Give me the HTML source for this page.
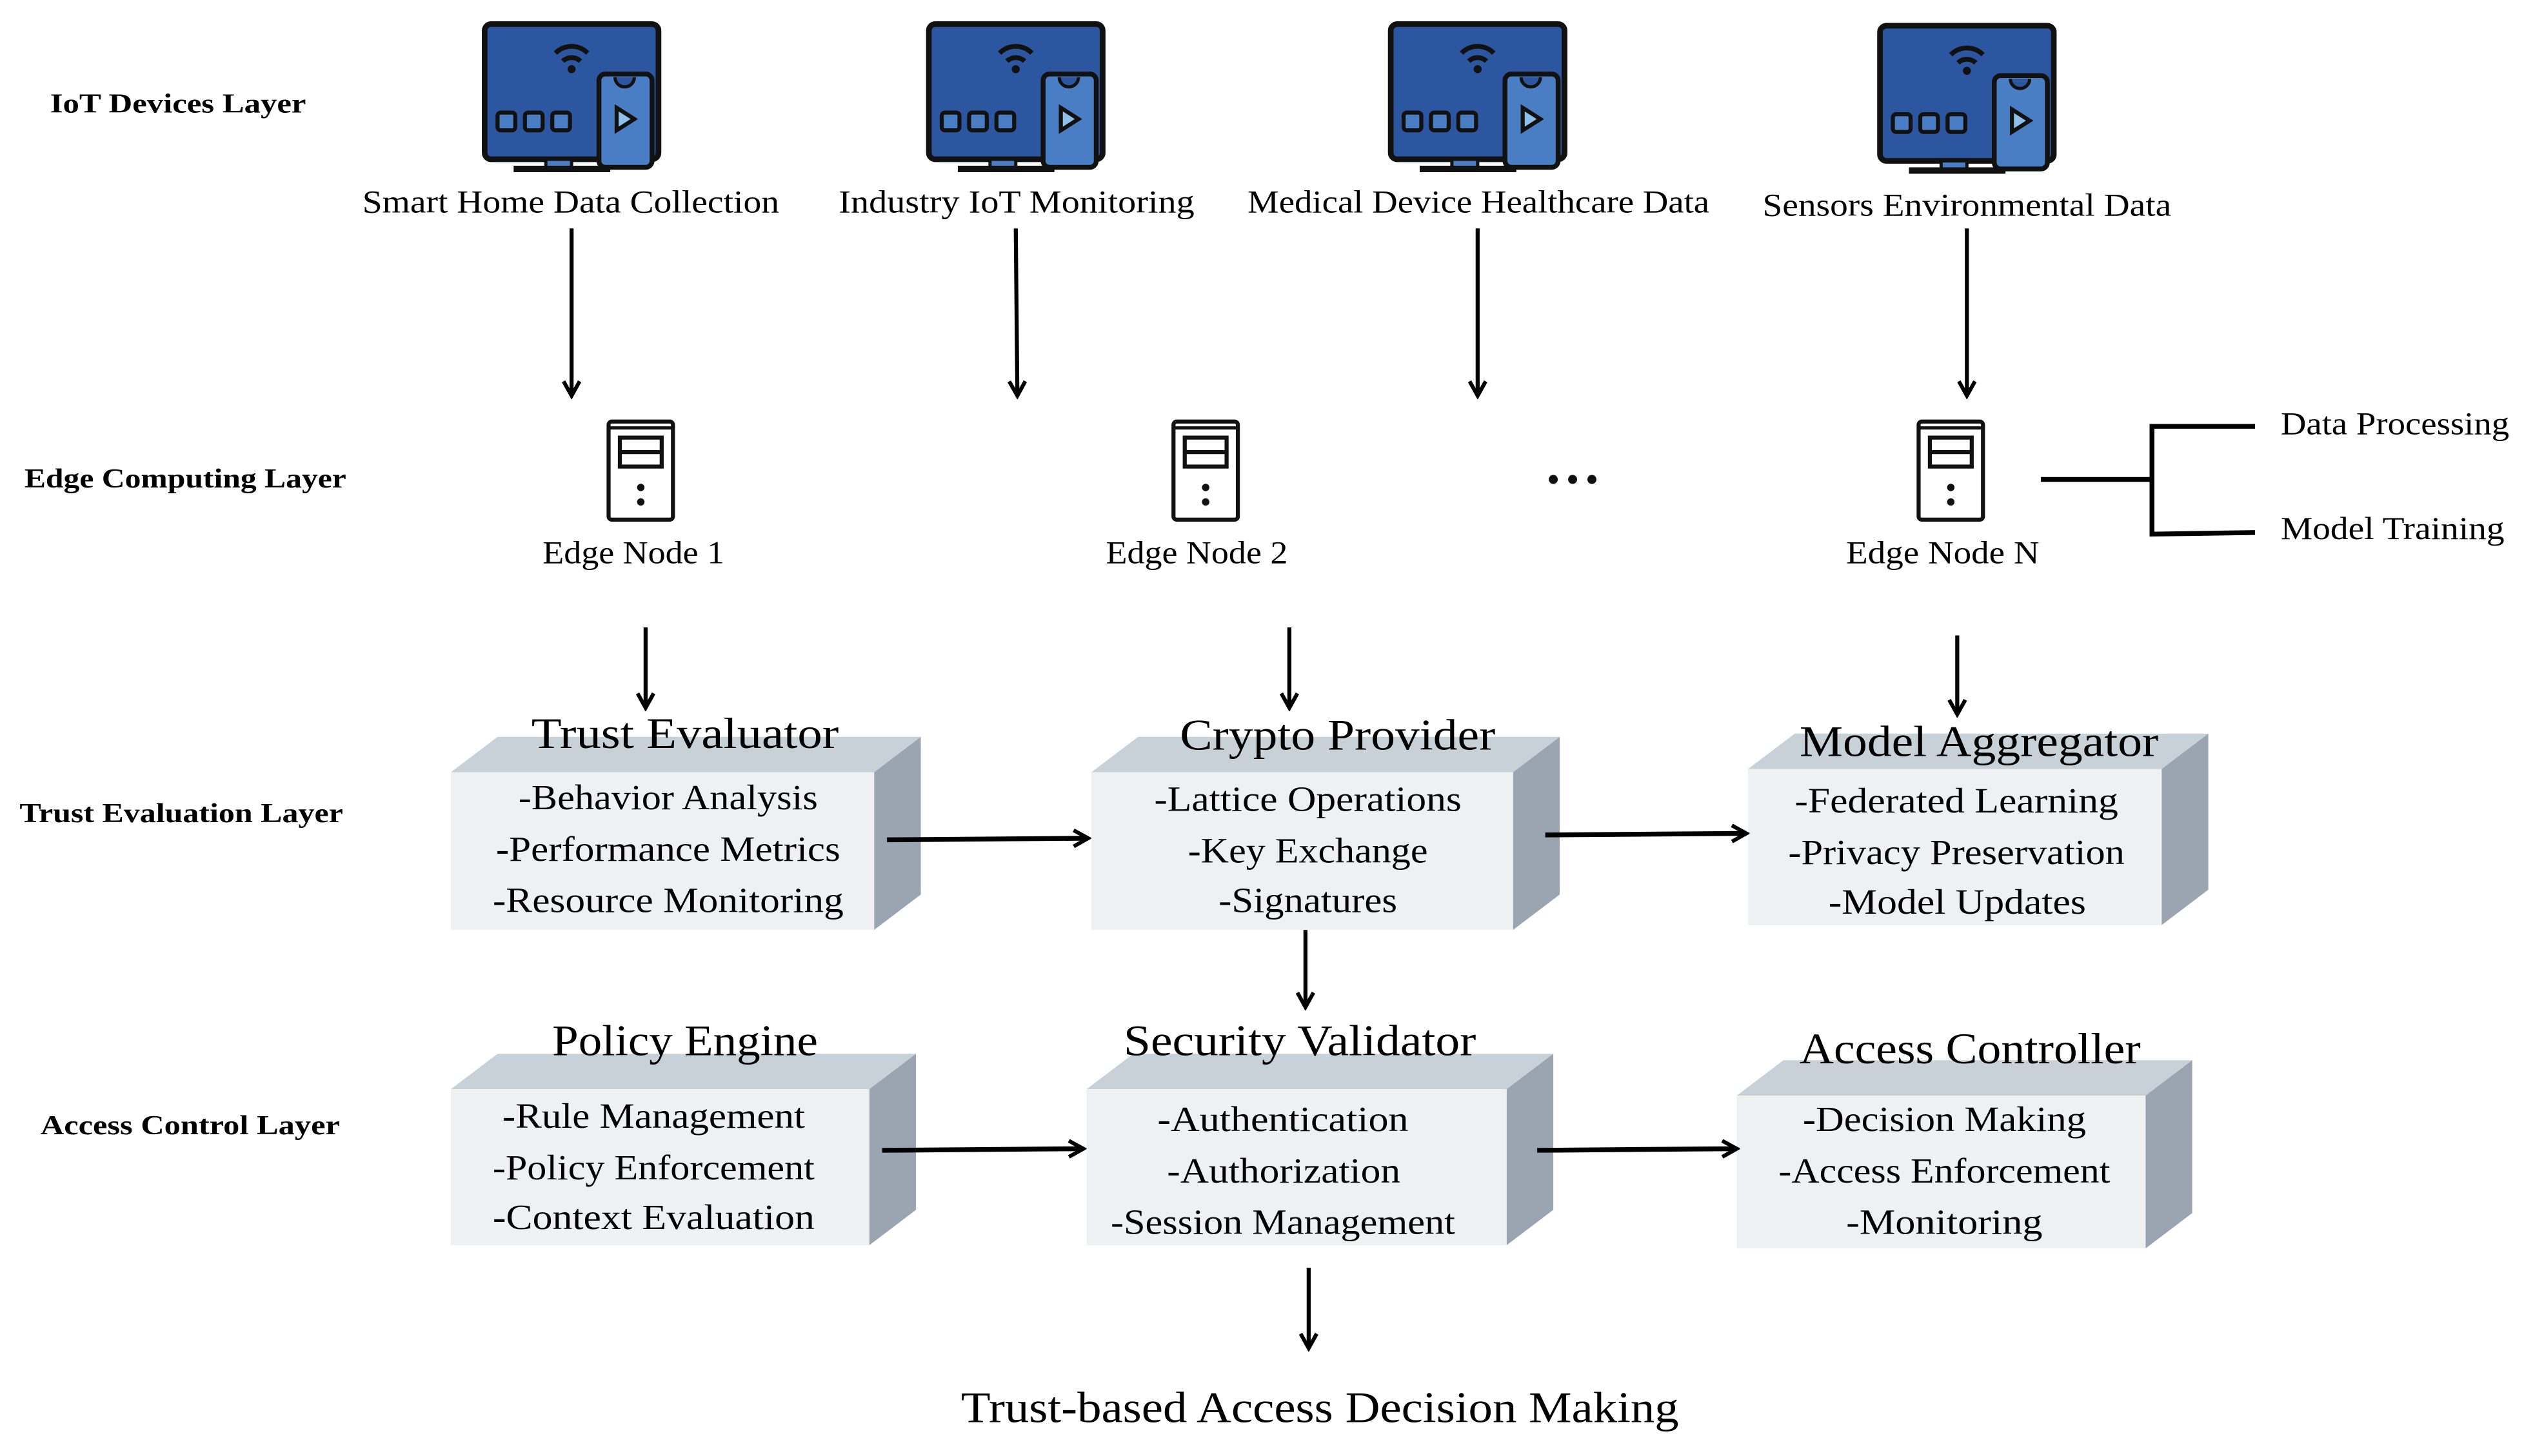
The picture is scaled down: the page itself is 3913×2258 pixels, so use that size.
<!DOCTYPE html>
<html><head><meta charset="utf-8"><style>html,body{margin:0;padding:0;background:#fff}svg{display:block}svg text{font-family:"Liberation Serif","Times New Roman",serif}</style></head>
<body>
<svg width="3913" height="2258" viewBox="0 0 1568 905" xmlns="http://www.w3.org/2000/svg">
<defs>
<marker id="ah" viewBox="0 0 12 12" refX="10" refY="6" markerWidth="12" markerHeight="12" markerUnits="userSpaceOnUse" orient="auto">
<path d="M1,1 L10,6 L1,11" fill="none" stroke="#000" stroke-width="2.4"/></marker>
<g id="mon">
<rect x="-54" y="0" width="108" height="84" rx="4" fill="#2d56a0" stroke="#111" stroke-width="3.5"/>
<rect x="-16" y="84" width="16" height="6" fill="#4a7ec4" stroke="#111" stroke-width="2"/>
<rect x="-36" y="88" width="60" height="4" fill="#111"/>
<path d="M-10,18 a14,14 0 0 1 20,0" fill="none" stroke="#111" stroke-width="3"/>
<path d="M-5.5,23 a8,8 0 0 1 11,0" fill="none" stroke="#111" stroke-width="3"/>
<circle cx="0" cy="28" r="2.5" fill="#111"/>
<rect x="-46" y="55" width="11" height="11" rx="2" fill="#4a7ec4" stroke="#111" stroke-width="2.5"/>
<rect x="-29" y="55" width="11" height="11" rx="2" fill="#4a7ec4" stroke="#111" stroke-width="2.5"/>
<rect x="-12" y="55" width="11" height="11" rx="2" fill="#4a7ec4" stroke="#111" stroke-width="2.5"/>
<rect x="17" y="31" width="33" height="58" rx="4" fill="#4a7ec4" stroke="#111" stroke-width="3"/>
<path d="M27,33 a6,6 0 0 0 12,0" fill="#2d56a0" stroke="#111" stroke-width="2"/>
<path d="M28,52 L39,59 L28,66 Z" fill="#8fc0ec" stroke="#111" stroke-width="2.5"/>
</g>
<g id="srv">
<rect x="-20" y="0" width="40" height="61" rx="2" fill="#fff" stroke="#111" stroke-width="2.5"/>
<line x1="-19" y1="4" x2="19" y2="4" stroke="#111" stroke-width="2"/>
<rect x="-13" y="10" width="26" height="18" fill="#fff" stroke="#111" stroke-width="2.5"/>
<line x1="-13" y1="19" x2="13" y2="19" stroke="#111" stroke-width="2.5"/>
<circle cx="0" cy="41" r="2.3" fill="#111"/><circle cx="0" cy="50" r="2.3" fill="#111"/>
</g>
</defs>

<g font-weight="bold" font-size="17">
<text x="31" y="70" textLength="159" lengthAdjust="spacingAndGlyphs">IoT Devices Layer</text>
<text x="15" y="303" textLength="200" lengthAdjust="spacingAndGlyphs">Edge Computing Layer</text>
<text x="12" y="511" textLength="201" lengthAdjust="spacingAndGlyphs">Trust Evaluation Layer</text>
<text x="25" y="705" textLength="186" lengthAdjust="spacingAndGlyphs">Access Control Layer</text>
</g>

<use href="#mon" x="355" y="15"/>
<use href="#mon" x="631" y="15"/>
<use href="#mon" x="918" y="15"/>
<use href="#mon" x="1222" y="16"/>

<g font-size="20">
<text x="225" y="132" textLength="259" lengthAdjust="spacingAndGlyphs">Smart Home Data Collection</text>
<text x="521" y="132" textLength="221" lengthAdjust="spacingAndGlyphs">Industry IoT Monitoring</text>
<text x="775" y="132" textLength="287" lengthAdjust="spacingAndGlyphs">Medical Device Healthcare Data</text>
<text x="1095" y="134" textLength="254" lengthAdjust="spacingAndGlyphs">Sensors Environmental Data</text>
<text x="337" y="350" textLength="113" lengthAdjust="spacingAndGlyphs">Edge Node 1</text>
<text x="687" y="350" textLength="113" lengthAdjust="spacingAndGlyphs">Edge Node 2</text>
<text x="1147" y="350" textLength="120" lengthAdjust="spacingAndGlyphs">Edge Node N</text>
<text x="1417" y="270" textLength="142" lengthAdjust="spacingAndGlyphs">Data Processing</text>
<text x="1417" y="335" textLength="139" lengthAdjust="spacingAndGlyphs">Model Training</text>
</g>

<g stroke="#000" stroke-width="2.5" fill="none" marker-end="url(#ah)">
<line x1="355" y1="142" x2="355" y2="246"/>
<line x1="631" y1="142" x2="632" y2="246"/>
<line x1="918" y1="142" x2="918" y2="246"/>
<line x1="1222" y1="142" x2="1222" y2="246"/>
<line x1="401" y1="390" x2="401" y2="440"/>
<line x1="801" y1="390" x2="801" y2="440"/>
<line x1="1216" y1="395" x2="1216" y2="444"/>
<line x1="811" y1="578" x2="811" y2="626"/>
<line x1="813" y1="788" x2="813" y2="838"/>
</g>

<use href="#srv" x="398" y="262"/>
<use href="#srv" x="749" y="262"/>
<use href="#srv" x="1212" y="262"/>
<g fill="#111"><circle cx="965" cy="298" r="2.8"/><circle cx="977" cy="298" r="2.8"/><circle cx="989" cy="298" r="2.8"/></g>

<g stroke="#000" stroke-width="3" fill="none">
<line x1="1268" y1="298" x2="1337" y2="298"/>
<polyline points="1401,265 1337,265 1337,332 1401,331"/>
</g>

<g>
<polygon points="280,480 309,458 572,458 543,480" fill="#c8d0d8"/><polygon points="543,480 572,458 572,556 543,578" fill="#9aa5b1"/><rect x="280" y="480" width="263" height="98" fill="#eff0f2"/>
<polygon points="678,480 707,458 969,458 940,480" fill="#c8d0d8"/><polygon points="940,480 969,458 969,556 940,578" fill="#9aa5b1"/><rect x="678" y="480" width="262" height="98" fill="#eff0f2"/>
<polygon points="1086,478 1115,456 1372,456 1343,478" fill="#c8d0d8"/><polygon points="1343,478 1372,456 1372,553 1343,575" fill="#9aa5b1"/><rect x="1086" y="478" width="257" height="97" fill="#eff0f2"/>
<polygon points="280,677 309,655 569,655 540,677" fill="#c8d0d8"/><polygon points="540,677 569,655 569,752 540,774" fill="#9aa5b1"/><rect x="280" y="677" width="260" height="97" fill="#eff0f2"/>
<polygon points="675,677 704,655 965,655 936,677" fill="#c8d0d8"/><polygon points="936,677 965,655 965,752 936,774" fill="#9aa5b1"/><rect x="675" y="677" width="261" height="97" fill="#eff0f2"/>
<polygon points="1079,681 1108,659 1362,659 1333,681" fill="#c8d0d8"/><polygon points="1333,681 1362,659 1362,754 1333,776" fill="#9aa5b1"/><rect x="1079" y="681" width="254" height="95" fill="#eff0f2"/>
</g>

<g stroke="#000" stroke-width="3" fill="none" marker-end="url(#ah)">
<line x1="551" y1="522" x2="676" y2="521"/>
<line x1="960" y1="519" x2="1085" y2="518"/>
<line x1="548" y1="715" x2="673" y2="714"/>
<line x1="955" y1="715" x2="1079" y2="714"/>
</g>

<g font-size="27">
<text x="330" y="465" textLength="191" lengthAdjust="spacingAndGlyphs">Trust Evaluator</text>
<text x="733" y="466" textLength="196" lengthAdjust="spacingAndGlyphs">Crypto Provider</text>
<text x="1118" y="470" textLength="223" lengthAdjust="spacingAndGlyphs">Model Aggregator</text>
<text x="343" y="656" textLength="165" lengthAdjust="spacingAndGlyphs">Policy Engine</text>
<text x="698" y="656" textLength="219" lengthAdjust="spacingAndGlyphs">Security Validator</text>
<text x="1118" y="661" textLength="212" lengthAdjust="spacingAndGlyphs">Access Controller</text>
<text x="597" y="884" textLength="446" lengthAdjust="spacingAndGlyphs">Trust-based Access Decision Making</text>
</g>
<g font-size="22">
<text x="322" y="503" textLength="186" lengthAdjust="spacingAndGlyphs">-Behavior Analysis</text>
<text x="308" y="535" textLength="214" lengthAdjust="spacingAndGlyphs">-Performance Metrics</text>
<text x="306" y="567" textLength="218" lengthAdjust="spacingAndGlyphs">-Resource Monitoring</text>
<text x="717" y="504" textLength="191" lengthAdjust="spacingAndGlyphs">-Lattice Operations</text>
<text x="738" y="536" textLength="149" lengthAdjust="spacingAndGlyphs">-Key Exchange</text>
<text x="757" y="567" textLength="111" lengthAdjust="spacingAndGlyphs">-Signatures</text>
<text x="1115" y="505" textLength="201" lengthAdjust="spacingAndGlyphs">-Federated Learning</text>
<text x="1111" y="537" textLength="209" lengthAdjust="spacingAndGlyphs">-Privacy Preservation</text>
<text x="1136" y="568" textLength="160" lengthAdjust="spacingAndGlyphs">-Model Updates</text>
<text x="312" y="701" textLength="188" lengthAdjust="spacingAndGlyphs">-Rule Management</text>
<text x="306" y="733" textLength="200" lengthAdjust="spacingAndGlyphs">-Policy Enforcement</text>
<text x="306" y="764" textLength="200" lengthAdjust="spacingAndGlyphs">-Context Evaluation</text>
<text x="719" y="703" textLength="156" lengthAdjust="spacingAndGlyphs">-Authentication</text>
<text x="725" y="735" textLength="145" lengthAdjust="spacingAndGlyphs">-Authorization</text>
<text x="690" y="767" textLength="214" lengthAdjust="spacingAndGlyphs">-Session Management</text>
<text x="1120" y="703" textLength="176" lengthAdjust="spacingAndGlyphs">-Decision Making</text>
<text x="1105" y="735" textLength="206" lengthAdjust="spacingAndGlyphs">-Access Enforcement</text>
<text x="1147" y="767" textLength="122" lengthAdjust="spacingAndGlyphs">-Monitoring</text>
</g>
</svg>
</body></html>
